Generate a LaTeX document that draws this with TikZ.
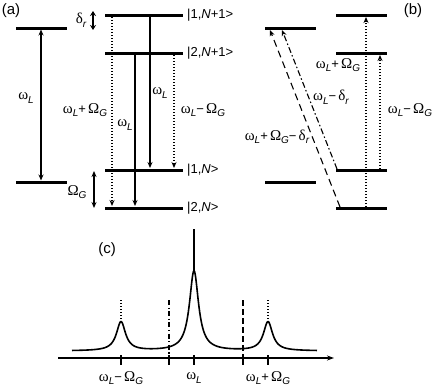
\documentclass[tikz,border=0pt]{standalone}
\usepackage{fontspec}
\setmainfont{Liberation Sans}
\newfontfamily\gk{Liberation Serif}
\usetikzlibrary{arrows.meta}
\newcommand\wsub[1]{\raisebox{-3.6pt}{\fontsize{10}{10}\selectfont\itshape #1}}
\newcommand\wL{{\gk\fontsize{15}{15}\selectfont ω}\wsub{L}}
\newcommand\OG{{\gk\fontsize{15}{15}\selectfont Ω}\wsub{G}}
\newcommand\dr{{\gk\fontsize{15}{15}\selectfont δ}\wsub{r}}
\begin{document}
\begin{tikzpicture}[x=1pt,y=-1pt,font=\fontsize{13}{15}\selectfont,
  level/.style={line width=3pt},
  tr/.style={line width=1.1pt,-{Stealth[length=6pt,width=5pt]}},
  dtr/.style={tr,dash pattern=on 1.2pt off 1.8pt},
  datr/.style={tr,dash pattern=on 7pt off 4.5pt},
  ddtr/.style={tr,dash pattern=on 6pt off 2.5pt on 1.5pt off 2.5pt},
  lbl/.style={inner sep=0pt},
  tick/.style={line width=1.1pt}]
\useasboundingbox (0,0) rectangle (436,388);
% ---------------- panel (a)
\node[lbl] (la) at (11,11) {\fontsize{15}{17}\selectfont (a)};
\draw[level] (16,28) coordinate (aL1w) -- (67,28) coordinate (aL1e);
\draw[level] (16,182) coordinate (aL0w) -- (67,182) coordinate (aL0e);
\coordinate (aw1) at (41,29.5); \coordinate (aw0) at (41,180.5);
\draw[tr,{Stealth[length=6pt,width=5pt]}-{Stealth[length=6pt,width=5pt]}] (aw1) -- (aw0);
\node[lbl] (awl) at (26,98) {\wL};
\draw[level] (105,15) coordinate (A1w) -- (183,15) coordinate (A1e);
\draw[level] (105,53) coordinate (A2w) -- (183,53) coordinate (A2e);
\draw[level] (105,170) coordinate (A3w) -- (183,170) coordinate (A3e);
\draw[level] (105,208) coordinate (A4w) -- (183,208) coordinate (A4e);
\node[lbl,anchor=west] (n1) at (187,15) {|1,\textit{N}+1>};
\node[lbl,anchor=west] (n2) at (187,53) {|2,\textit{N}+1>};
\node[lbl,anchor=west] (n3) at (187,170) {|1,\textit{N}>};
\node[lbl,anchor=west] (n4) at (187,208) {|2,\textit{N}>};
% delta_r and Omega_G arrows
\coordinate (dt) at (93,11); \coordinate (db) at (93,30);
\draw[tr,{Stealth[length=5pt,width=6pt]}-{Stealth[length=5pt,width=6pt]},line width=1.6pt] (dt) -- (db);
\node[lbl] (dl) at (81,20) {\dr};
\coordinate (ot) at (94,171); \coordinate (ob) at (94,208);
\draw[tr,{Stealth[length=6pt,width=5pt]}-{Stealth[length=6pt,width=5pt]}] (ot) -- (ob);
\node[lbl] (ol) at (77,192) {\OG};
% transitions
\coordinate (t1a) at (112,17); \coordinate (t1b) at (112,206);
\draw[dtr] (t1a) -- (t1b);
\node[lbl] (t1l) at (85,110) {\wL+\,\OG};
\coordinate (t2a) at (135,55); \coordinate (t2b) at (135,206);
\draw[tr] (t2a) -- (t2b);
\node[lbl] (t2l) at (125,125) {\wL};
\coordinate (t3a) at (150,17); \coordinate (t3b) at (150,168);
\draw[tr] (t3a) -- (t3b);
\node[lbl] (t3l) at (160,93) {\wL};
\coordinate (t4a) at (174,55); \coordinate (t4b) at (174,168);
\draw[dtr] (t4a) -- (t4b);
\node[lbl] (t4l) at (203,110) {\wL−\,\OG};
% ---------------- panel (b)
\node[lbl] (lb) at (413,11) {\fontsize{15}{17}\selectfont (b)};
\draw[level] (265,28) coordinate (bL1w) -- (316,28) coordinate (bL1e);
\draw[level] (265,182) coordinate (bL0w) -- (316,182) coordinate (bL0e);
\draw[level] (336,15) coordinate (B1w) -- (387,15) coordinate (B1e);
\draw[level] (336,53) coordinate (B2w) -- (387,53) coordinate (B2e);
\draw[level] (336,170) coordinate (B3w) -- (387,170) coordinate (B3e);
\draw[level] (336,208) coordinate (B4w) -- (387,208) coordinate (B4e);
\coordinate (u1a) at (366,207); \coordinate (u1b) at (366,17);
\draw[dtr] (u1a) -- (u1b);
\node[lbl] (u1l) at (338,65) {\wL+\,\OG};
\coordinate (u2a) at (380,169); \coordinate (u2b) at (380,55);
\draw[dtr] (u2a) -- (u2b);
\node[lbl] (u2l) at (410,110) {\wL−\,\OG};
\coordinate (s1a) at (340,207); \coordinate (s1b) at (270,30);
\draw[datr] (s1a) -- (s1b);
\coordinate (s2a) at (337,169); \coordinate (s2b) at (282,30);
\draw[ddtr] (s2a) -- (s2b);
\node[lbl] (s2l) at (331,97) {\wL−\,\dr};
\node[lbl] (s1l) at (277,137) {\wL+\,\OG−\,\dr};
% ---------------- panel (c)
\node[lbl] (lc) at (107,250) {\fontsize{15}{17}\selectfont (c)};
\coordinate (ax0) at (58,358); \coordinate (ax1) at (334,358);
\draw[line width=1.1pt,-{Stealth[length=7pt,width=5pt]}] (ax0) -- (ax1);
\foreach \x/\n in {121/k1,169/k2,194/k3,243/k4,268/k5}{
  \draw[tick] (\x,355) coordinate (\n t) -- (\x,365) coordinate (\n b);}
\draw[line width=1.1pt,dash pattern=on 1.2pt off 1.8pt] (121,300) coordinate (p1) -- (121,321);
\draw[line width=1.1pt,dash pattern=on 1.2pt off 1.8pt] (268,300) coordinate (p5) -- (268,321);
\draw[line width=1.1pt,dash pattern=on 5pt off 2.5pt on 1.2pt off 2.5pt] (169,300) coordinate (p2) -- (k2t);
\draw[line width=1.1pt,dash pattern=on 6pt off 3pt] (243,300) coordinate (p4) -- (k4t);
\draw[line width=1.6pt,line join=round] plot[domain=72:317,samples=500,smooth]
  (\x,{351-29/(1+((\x-121)/5.5)^2)-80/(1+((\x-194)/5.5)^2)-29/(1+((\x-268)/5.5)^2)});
\draw[line width=1.4pt] (194,229) coordinate (cp) -- (194,272);
\node[lbl] (c1) at (121,378) {\wL−\,\OG};
\node[lbl] (c2) at (194,378) {\wL};
\node[lbl] (c3) at (268,378) {\wL+\,\OG};
\end{tikzpicture}
\end{document}
